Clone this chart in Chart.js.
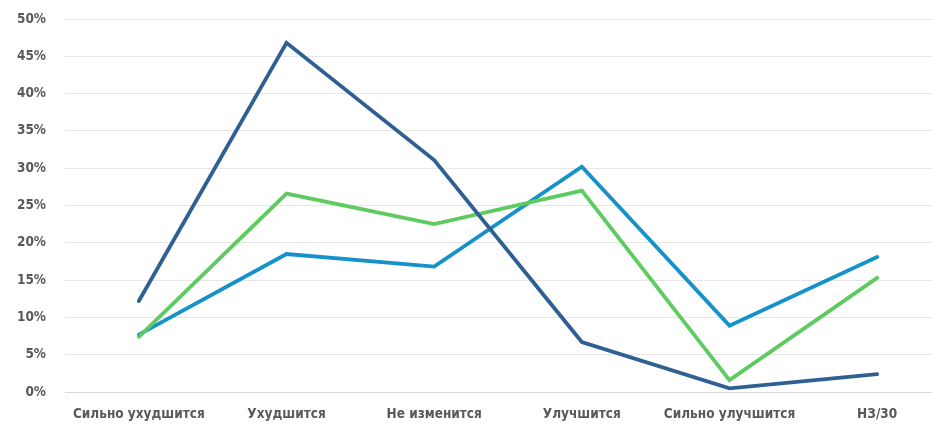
<!DOCTYPE html>
<html><head><meta charset="utf-8">
<script src="https://cdn.jsdelivr.net/npm/chart.js@4/dist/chart.umd.min.js"></script>
<style>
html,body{margin:0;padding:0;background:#fff;overflow:hidden;width:932px;height:424px;}
#wrap{position:absolute;left:0;top:0;width:951px;height:424px;}
</style></head>
<body>
<div id="wrap"><canvas id="c" width="951" height="424"></canvas></div>
<script>
const categories = ["Сильно ухудшится","Ухудшится","Не изменится","Улучшится","Сильно улучшится","НЗ/30"];
const seriesDark  = [12.2, 46.8, 31.1, 6.7, 0.5, 2.4];
const seriesGreen = [7.4, 26.6, 22.5, 27.0, 1.6, 15.3];
const seriesLight = [7.7, 18.5, 16.8, 30.2, 8.9, 18.1];
const yTicks = [0,5,10,15,20,25,30,35,40,45,50];

const fontFam = "'Liberation Sans Narrow','DejaVu Sans Condensed','Roboto',sans-serif";
Chart.defaults.font.family = fontFam;
new Chart(document.getElementById('c'), {
  type: 'line',
  data: {
    labels: categories,
    datasets: [
      {data: seriesDark, borderColor:'#2e6094', borderWidth:3.8, pointRadius:0, tension:0, borderCapStyle:'round'},
      {data: seriesGreen, borderColor:'#5ecb61', borderWidth:3.8, pointRadius:0, tension:0, borderCapStyle:'round'},
      {data: seriesLight, borderColor:'#1592c9', borderWidth:3.8, pointRadius:0, tension:0, borderCapStyle:'round'}
    ]
  },
  options: {
    responsive:false, animation:false,
    layout:{padding:{top:19,right:0,left:0,bottom:0}},
    plugins:{legend:{display:false}, tooltip:{enabled:false}},
    scales:{
      x:{
        offset:true,
        grid:{display:false, drawTicks:false},
        border:{display:true, color:'#d9d9d9', width:1},
        ticks:{color:'#595959', font:{size:13.5, weight:'bold', family:fontFam}, padding:14, maxRotation:0, autoSkip:false},
        afterFit(s){ s.height = 32; s.paddingLeft = 0; s.paddingRight = 0; }
      },
      y:{
        min:0, max:50,
        afterBuildTicks(s){ s.ticks = yTicks.map(v=>({value:v})); },
        grid:{color:'#e6e6e6', drawTicks:false, lineWidth:1},
        border:{display:false},
        ticks:{color:'#595959', font:{size:13.5, weight:'bold', family:fontFam}, padding:19, callback:v=>v+'%'},
        afterFit(s){ s.width = 65; s.paddingTop = 0; s.paddingBottom = 0; }
      }
    }
  }
});
</script>
</body></html>
